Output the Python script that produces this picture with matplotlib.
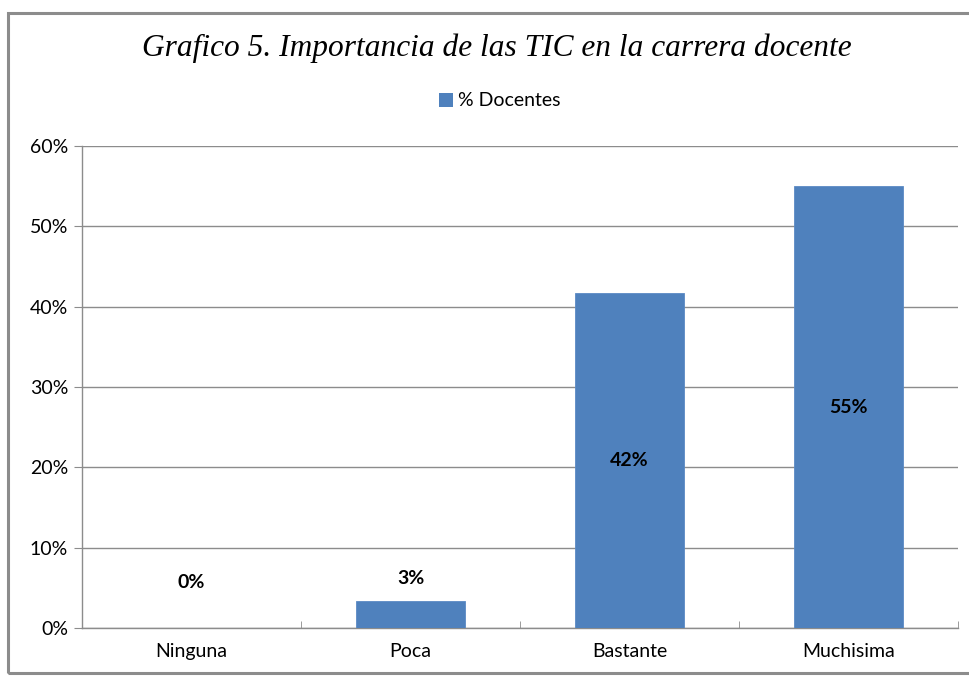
import matplotlib
matplotlib.use("Agg")
import matplotlib.pyplot as plt
from matplotlib.patches import Rectangle, Patch
from matplotlib.ticker import FuncFormatter, MultipleLocator

categories = ["Ninguna", "Poca", "Bastante", "Muchisima"]
values = [0.0, 3.33, 41.67, 55.0]
value_labels = ["0%", "3%", "42%", "55%"]
series_name = "% Docentes"
title = "Grafico 5. Importancia de las TIC en la carrera docente"

W, H = 969, 677
fig = plt.figure(figsize=(W / 100, H / 100), dpi=100)
fig.patch.set_facecolor("white")

# outer frame
fig.add_artist(Rectangle((8 / W, 1 - 673 / H), 1.2, (673 - 13) / H,
                         transform=fig.transFigure, fill=False,
                         edgecolor="#8c8c8c", linewidth=2.2))

ax = fig.add_axes([82 / W, 1 - 628 / H, (958 - 82) / W, (628 - 146) / H])
bar_color = "#4F81BD"
x = list(range(len(categories)))
ax.bar(x, values, width=0.5, color=bar_color, edgecolor="#5b8ac4", linewidth=0.6, zorder=3)

ax.set_xlim(-0.5, len(categories) - 0.5)
ax.set_ylim(0, 60)
ax.yaxis.set_major_locator(MultipleLocator(10))
ax.yaxis.set_major_formatter(FuncFormatter(lambda v, p: f"{v:.0f}%"))
ax.grid(axis="y", color="#8c8c8c", linewidth=1.0, zorder=0)
ax.set_axisbelow(True)

for s in ["top", "right"]:
    ax.spines[s].set_visible(False)
for s in ["left", "bottom"]:
    ax.spines[s].set_color("#8c8c8c")
    ax.spines[s].set_linewidth(1.0)

ax.set_xticks(x)
ax.set_xticklabels(categories)
ax.set_xticks([i - 0.5 for i in range(len(categories) + 1)], minor=True)
ax.tick_params(axis="x", which="major", length=0, pad=11, labelsize=14)
ax.tick_params(axis="x", which="minor", length=5, color="#8c8c8c", direction="in")
ax.tick_params(axis="y", length=6, color="#8c8c8c", pad=4, labelsize=14)
for lab in ax.get_xticklabels() + ax.get_yticklabels():
    lab.set_fontfamily("Lato")

for xi, v, lab in zip(x, values, value_labels):
    y = v / 2 if v >= 10 else 5.7 + 0.15 * v
    ax.text(xi, y, lab, ha="center", va="center", fontsize=14,
            fontweight="bold", family="Lato", color="black", zorder=4)

fig.text(497 / W, 1 - 48 / H, title, ha="center", va="center",
         fontsize=22.6, style="italic", family="Liberation Serif")

leg = fig.legend(handles=[Patch(facecolor=bar_color, label=series_name)],
                 loc="center", bbox_to_anchor=(500 / W, 1 - 101 / H),
                 frameon=False, handlelength=0.7, handleheight=0.7,
                 handletextpad=0.3, prop={"family": "Lato", "size": 14})

fig.savefig("out.png", dpi=100, facecolor="white")
